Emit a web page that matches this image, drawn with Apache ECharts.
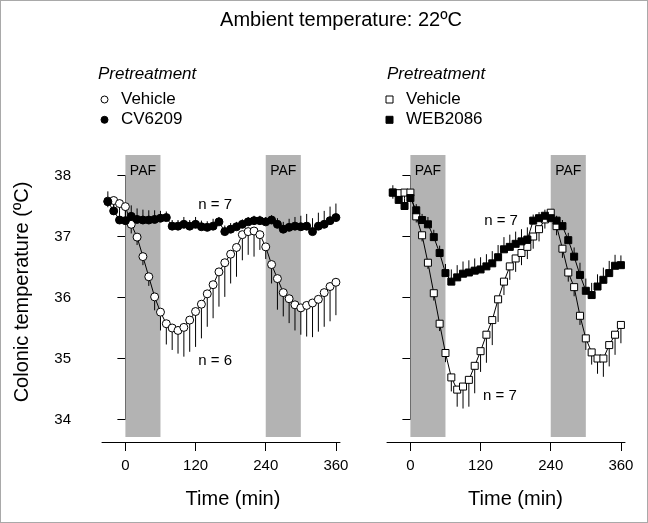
<!DOCTYPE html>
<html>
<head>
<meta charset="utf-8">
<script src="https://cdn.jsdelivr.net/npm/echarts@6.0.0/dist/echarts.min.js"></script>
<style>
  html, body { margin: 0; padding: 0; background: #fff; }
  #wrap { position: relative; width: 648px; height: 523px; }
  #cv { width: 648px; height: 523px; }
  #frame { position: absolute; left: 0; top: 0; width: 648px; height: 523px; box-sizing: border-box; border: 1px solid #a9a9a9; pointer-events: none; }
</style>
</head>
<body>
<div id="wrap"><div id="cv"></div><div id="frame"></div></div>
<script>
// time points (min) shared by every series
var minutes = [-30, -20, -10, 0, 10, 20, 30, 40, 50, 60, 70, 80, 90, 100, 110, 120, 130, 140, 150, 160,
               170, 180, 190, 200, 210, 220, 230, 240, 250, 260, 270, 280, 290, 300, 310, 320, 330, 340, 350, 360];

// left panel: vehicle (open circles), SEM drawn downward
var vehicleA = [37.58, 37.59, 37.54, 37.49, 37.20, 36.99, 36.67, 36.34, 36.01, 35.76, 35.57, 35.50, 35.46, 35.51,
                35.63, 35.77, 35.89, 36.06, 36.21, 36.42, 36.57, 36.71, 36.82, 37.03, 37.08, 37.09, 37.03, 36.83,
                36.54, 36.31, 36.08, 35.98, 35.88, 35.83, 35.87, 35.91, 35.97, 36.08, 36.18, 36.25];
var vehicleASem = [0.10, 0.10, 0.12, 0.15, 0.15, 0.13, 0.14, 0.15, 0.22, 0.30, 0.34, 0.36, 0.38, 0.48,
                   0.52, 0.58, 0.56, 0.54, 0.55, 0.57, 0.56, 0.48, 0.48, 0.42, 0.38, 0.42, 0.25, 0.20,
                   0.31, 0.51, 0.39, 0.40, 0.42, 0.44, 0.51, 0.56, 0.53, 0.56, 0.57, 0.54];
// left panel: CV6209 (filled circles), SEM drawn upward
var cv6209 = [37.57, 37.42, 37.27, 37.26, 37.33, 37.28, 37.27, 37.27, 37.28, 37.30, 37.31, 37.17, 37.17, 37.20,
              37.17, 37.20, 37.16, 37.15, 37.17, 37.24, 37.08, 37.12, 37.16, 37.20, 37.24, 37.26, 37.26, 37.24,
              37.27, 37.20, 37.12, 37.15, 37.17, 37.16, 37.17, 37.08, 37.17, 37.20, 37.26, 37.31];
var cv6209Sem = [0.17, 0.20, 0.15, 0.19, 0.18, 0.18, 0.17, 0.16, 0.15, 0.12, 0.10, 0.10, 0.10, 0.12,
                 0.10, 0.12, 0.10, 0.10, 0.12, 0.08, 0.10, 0.10, 0.08, 0.08, 0.08, 0.08, 0.08, 0.08,
                 0.08, 0.10, 0.12, 0.14, 0.15, 0.18, 0.20, 0.22, 0.22, 0.22, 0.23, 0.23];

// right panel: vehicle (open squares), SEM drawn downward
var vehicleB = [37.72, 37.71, 37.72, 37.72, 37.33, 37.02, 36.57, 36.07, 35.57, 35.09, 34.69, 34.49, 34.54, 34.65,
                34.88, 35.12, 35.39, 35.63, 35.97, 36.26, 36.51, 36.64, 36.73, 36.83, 37.00, 37.12, 37.28, 37.39,
                37.17, 36.80, 36.41, 36.17, 35.70, 35.33, 35.10, 35.00, 35.00, 35.22, 35.39, 35.55];
var vehicleBSem = [0.10, 0.10, 0.10, 0.10, 0.10, 0.10, 0.10, 0.12, 0.12, 0.15, 0.23, 0.28, 0.36, 0.44,
                   0.45, 0.34, 0.46, 0.41, 0.37, 0.22, 0.22, 0.22, 0.20, 0.20, 0.20, 0.20, 0.15, 0.10,
                   0.15, 0.15, 0.15, 0.15, 0.15, 0.19, 0.20, 0.25, 0.30, 0.35, 0.33, 0.30];
// right panel: WEB2086 (filled squares), SEM drawn upward
var web2086 = [37.72, 37.60, 37.50, 37.63, 37.43, 37.27, 37.20, 36.99, 36.73, 36.40, 36.26, 36.33, 36.39, 36.41,
               36.44, 36.46, 36.51, 36.56, 36.66, 36.79, 36.83, 36.88, 36.92, 36.95, 37.26, 37.30, 37.34, 37.30,
               37.26, 37.17, 36.94, 36.67, 36.37, 36.11, 36.04, 36.18, 36.29, 36.40, 36.52, 36.53];
var web2086Sem = [0.12, 0.12, 0.12, 0.10, 0.10, 0.10, 0.12, 0.12, 0.12, 0.15, 0.20, 0.20, 0.20, 0.20,
                  0.20, 0.20, 0.20, 0.20, 0.20, 0.20, 0.20, 0.20, 0.20, 0.20, 0.10, 0.10, 0.10, 0.10,
                  0.08, 0.10, 0.12, 0.15, 0.20, 0.20, 0.20, 0.20, 0.20, 0.20, 0.18, 0.16];

var timeTicks = [0, 120, 240, 360];
var pafWindows = [[0, 60], [240, 300]];
var notesA = [[153.5, 37.52, 'n = 7'], [153.5, 34.96, 'n = 6']];
var notesB = [[155, 37.25, 'n = 7'], [153, 34.39, 'n = 7']];

var FONT = 'Liberation Sans, Arial, sans-serif';
var chart = echarts.init(document.getElementById('cv'));

function pts(vals) {
  return minutes.map(function (m, i) { return [m, vals[i]]; });
}
function bars(vals, sem, dir) {
  return minutes.map(function (m, i) { return [m, vals[i], vals[i] + dir * sem[i]]; });
}
function barItem(params, api) {
  var a = api.coord([api.value(0), api.value(1)]);
  var b = api.coord([api.value(0), api.value(2)]);
  return { type: 'line', shape: { x1: a[0], y1: a[1], x2: b[0], y2: b[1] }, style: { stroke: '#000', lineWidth: 1 } };
}
function lineSeries(name, vals, grid, symbol, size, fill) {
  return {
    name: name, type: 'line', xAxisIndex: grid, yAxisIndex: grid, data: pts(vals),
    symbol: symbol, symbolSize: size, showAllSymbol: true, z: 3,
    lineStyle: { color: '#000', width: 1 },
    itemStyle: { color: fill, borderColor: '#000', borderWidth: 1 },
    emphasis: { disabled: true }
  };
}
function barSeries(vals, sem, dir, grid) {
  return { type: 'custom', xAxisIndex: grid, yAxisIndex: grid, renderItem: barItem, data: bars(vals, sem, dir), z: 2, silent: true };
}
function shadeSeries(grid) {
  return {
    type: 'line', xAxisIndex: grid, yAxisIndex: grid, data: [], z: 0, silent: true,
    markArea: {
      silent: true,
      itemStyle: { color: '#b3b3b3' },
      label: { show: true, position: 'insideTop', distance: 9, color: '#000', fontSize: 14, fontFamily: FONT },
      data: pafWindows.map(function (w) { return [{ xAxis: w[0], name: 'PAF' }, { xAxis: w[1] }]; })
    }
  };
}
function noteSeries(notes, grid) {
  return {
    type: 'scatter', xAxisIndex: grid, yAxisIndex: grid, data: notes, symbolSize: 0, silent: true, z: 4,
    itemStyle: { opacity: 1 },
    label: { show: true, position: 'inside', formatter: function (p) { return p.data[2]; }, color: '#000', opacity: 1, fontSize: 15, fontFamily: FONT }
  };
}
function xAx(grid) {
  return {
    type: 'value', gridIndex: grid, min: -40, max: 367, offset: 22.5,
    splitLine: { show: false },
    axisLine: { show: true, lineStyle: { color: '#000', width: 1 } },
    axisTick: { show: true, length: 9, customValues: timeTicks, lineStyle: { color: '#000' } },
    axisLabel: { show: true, customValues: timeTicks, margin: 16, fontSize: 15, color: '#000', fontFamily: FONT }
  };
}
function yAx(grid, offset, labels) {
  return {
    type: 'value', gridIndex: grid, min: 34, max: 38, interval: 1, offset: offset,
    splitLine: { show: false },
    axisLine: { show: true, lineStyle: { color: '#000', width: 1 } },
    axisTick: { show: true, length: 8, lineStyle: { color: '#000' } },
    axisLabel: { show: labels, margin: 10, fontSize: 15, color: '#000', fontFamily: FONT }
  };
}
function legendFor(left, items, fmt) {
  return {
    left: left, top: 91, padding: 0, orient: 'vertical', itemWidth: 7, itemHeight: 7, itemGap: 3.3, selectedMode: false,
    formatter: fmt,
    textStyle: { fontSize: 17, lineHeight: 17, color: '#000', fontFamily: FONT, padding: [0, 0, 0, 8] },
    data: items
  };
}
function txt(x, y, s, size, extra) {
  var st = { text: s, x: 0, y: 0, fill: '#000', font: (extra && extra.italic ? 'italic ' : '') + size + 'px ' + FONT,
             align: extra && extra.align || 'center', verticalAlign: 'middle' };
  return { type: 'text', x: x, y: y, rotation: extra && extra.rot || 0, style: st, silent: true };
}

var option = {
  animation: false,
  backgroundColor: '#fff',
  grid: [
    { left: 102, top: 175.5, width: 238, height: 244 },
    { left: 387, top: 175.5, width: 238, height: 244 },
    { left: 102, top: 155, width: 238, height: 282 },
    { left: 387, top: 155, width: 238, height: 282 }
  ],
  xAxis: [xAx(0), xAx(1),
          { type: 'value', gridIndex: 2, min: -40, max: 367, show: false },
          { type: 'value', gridIndex: 3, min: -40, max: 367, show: false }],
  yAxis: [yAx(0, 21, true), yAx(1, 11, false),
          { type: 'value', gridIndex: 2, min: 0, max: 1, show: false },
          { type: 'value', gridIndex: 3, min: 0, max: 1, show: false }],
  legend: [
    legendFor(100.5, [
      { name: 'Vehicle', icon: 'circle', itemStyle: { color: '#fff', borderColor: '#000', borderWidth: 1 } },
      { name: 'CV6209', icon: 'circle', itemStyle: { color: '#000', borderColor: '#000', borderWidth: 1 } }
    ]),
    legendFor(385.5, [
      { name: 'Vehicle ', icon: 'rect', itemStyle: { color: '#fff', borderColor: '#000', borderWidth: 1 } },
      { name: 'WEB2086', icon: 'rect', itemStyle: { color: '#000', borderColor: '#000', borderWidth: 1 } }
    ], function (n) { return n.trim(); })
  ],
  graphic: [
    txt(341, 20, 'Ambient temperature: 22ºC', 20),
    txt(98, 74, 'Pretreatment', 17, { italic: true, align: 'left' }),
    txt(387, 74, 'Pretreatment', 17, { italic: true, align: 'left' }),
    txt(233, 499, 'Time (min)', 20),
    txt(515.5, 499, 'Time (min)', 20),
    txt(22, 292, 'Colonic temperature (ºC)', 20, { rot: Math.PI / 2 })
  ],
  series: [
    shadeSeries(2),
    shadeSeries(3),
    barSeries(vehicleA, vehicleASem, -1, 0),
    barSeries(cv6209, cv6209Sem, 1, 0),
    lineSeries('Vehicle', vehicleA, 0, 'circle', 8, '#fff'),
    lineSeries('CV6209', cv6209, 0, 'circle', 8, '#000'),
    barSeries(vehicleB, vehicleBSem, -1, 1),
    barSeries(web2086, web2086Sem, 1, 1),
    lineSeries('Vehicle ', vehicleB, 1, 'rect', 7, '#fff'),
    lineSeries('WEB2086', web2086, 1, 'rect', 7, '#000'),
    noteSeries(notesA, 0),
    noteSeries(notesB, 1)
  ]
};
chart.setOption(option);
</script>
</body>
</html>
